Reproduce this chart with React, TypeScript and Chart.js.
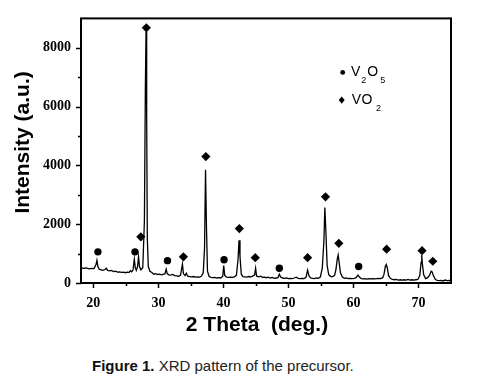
import React, { useEffect, useRef } from 'react';
import { Chart, registerables } from 'chart.js';

Chart.register(...registerables);

// XRD trace (2θ in degrees, intensity in a.u.)
const twoTheta = [
  18.1, 18.5, 18.9, 19.3, 19.7, 20.1, 20.4, 20.55, 20.7, 20.9,
  21.2, 21.5, 21.8, 22.0, 22.2, 22.5, 22.8, 23.1, 23.4, 23.7,
  24.0, 24.3, 24.6, 24.9, 25.2, 25.5, 25.7, 25.9, 26.1, 26.3,
  26.45, 26.6, 26.8, 26.95, 27.1, 27.3, 27.6, 27.85, 28.0, 28.1,
  28.2, 28.3, 28.45, 28.7, 29.0, 29.3, 29.6, 29.9, 30.2, 30.5,
  30.8, 31.0, 31.2, 31.35, 31.6, 31.9, 32.2, 32.5, 32.8, 33.1,
  33.4, 33.7, 33.85, 34.1, 34.3, 34.5, 34.8, 35.1, 35.4, 35.7,
  36.0, 36.3, 36.6, 36.9, 37.1, 37.25, 37.4, 37.55, 37.8, 38.1,
  38.4, 38.7, 39.0, 39.3, 39.6, 39.9, 40.05, 40.2, 40.5, 40.8,
  41.1, 41.4, 41.7, 42.0, 42.25, 42.4, 42.55, 42.75, 43.0, 43.3,
  43.6, 43.9, 44.2, 44.5, 44.8, 44.95, 45.1, 45.4, 45.7, 46.0,
  46.3, 46.6, 46.9, 47.2, 47.5, 47.8, 48.1, 48.4, 48.6, 48.8,
  49.1, 49.4, 49.7, 50.0, 50.3, 50.6, 50.9, 51.2, 51.5, 51.8,
  52.1, 52.4, 52.7, 52.95, 53.15, 53.4, 53.7, 54.0, 54.3, 54.6,
  54.9, 55.2, 55.45, 55.6, 55.75, 55.95, 56.2, 56.5, 56.8, 57.1,
  57.3, 57.5, 57.65, 57.8, 58.0, 58.3, 58.6, 58.9, 59.2, 59.5,
  59.8, 60.1, 60.4, 60.7, 60.9, 61.2, 61.5, 61.8, 62.1, 62.4,
  62.7, 63.0, 63.3, 63.6, 63.9, 64.2, 64.5, 64.7, 64.9, 65.05,
  65.2, 65.4, 65.7, 66.0, 66.3, 66.6, 66.9, 67.2, 67.5, 67.8,
  68.1, 68.4, 68.7, 69.0, 69.3, 69.6, 69.9, 70.2, 70.4, 70.5,
  70.6, 70.8, 71.1, 71.4, 71.7, 71.95, 72.1, 72.3, 72.6, 72.9,
  73.2, 73.5, 73.8, 74.1, 74.4, 74.7, 75.0,
];

const intensity = [
  520, 500, 510, 480, 500, 490, 620, 770, 560, 470,
  450, 430, 460, 500, 430, 410, 430, 390, 400, 370,
  380, 360, 370, 350, 370, 360, 420, 380, 440, 810,
  520, 430, 560, 890, 560, 450, 520, 2100, 6700, 8550,
  5600, 1500, 560, 400, 360, 300, 320, 290, 300, 280,
  300, 310, 470, 320, 280, 270, 290, 250, 240, 230,
  260, 640, 320, 250, 330, 230, 220, 210, 220, 200,
  210, 200, 230, 350, 1200, 3850, 1850, 400, 220, 190,
  180, 190, 170, 180, 170, 230, 590, 260, 200, 190,
  200, 190, 210, 260, 800, 1450, 900, 300, 220, 210,
  200, 220, 210, 230, 280, 500, 240, 210, 230, 190,
  200, 180, 200, 170, 190, 160, 170, 180, 300, 200,
  170, 160, 170, 150, 160, 150, 170, 200, 160, 150,
  160, 150, 190, 440, 250, 170, 160, 150, 170, 160,
  200, 500, 1400, 2570, 1800, 600, 280, 220, 220, 260,
  450, 800, 950, 700, 350, 200, 160, 170, 150, 160,
  150, 160, 180, 270, 200, 150, 140, 150, 130, 150,
  140, 150, 140, 150, 160, 150, 180, 300, 560, 630,
  520, 250, 150, 120, 110, 120, 100, 110, 100, 110,
  100, 120, 100, 110, 100, 110, 120, 250, 700, 950,
  650, 280, 150, 180, 260, 400, 380, 250, 120, 90,
  80, 90, 70, 100, 80, 90, 70,
];

// Phase markers
const v2o5Theta = [20.7, 26.4, 31.4, 40.1, 48.6, 60.8];
const v2o5Level = [1060, 1060, 760, 790, 500, 560];
const vo2Theta = [27.3, 28.15, 33.85, 37.3, 42.45, 44.9, 52.95, 55.7, 57.75, 65.1, 70.55, 72.2];
const vo2Level = [1570, 8680, 890, 4300, 1850, 860, 860, 2930, 1350, 1150, 1100, 740];

// Axes
const xTickValues = [20, 30, 40, 50, 60, 70];
const xMinorTicks = [25, 35, 45, 55, 65];
const yTickValues = [0, 2000, 4000, 6000, 8000];
const yMinorTicks = [1000, 3000, 5000, 7000];
const xTitle = '2 Theta  (deg.)';
const yTitle = 'Intensity (a.u.)';

const extrasPlugin = {
  id: 'extras',
  afterDraw(chart: any) {
    const { ctx, chartArea: a, scales } = chart;
    const xs = scales.x;
    const ys = scales.y;
    ctx.save();
    ctx.strokeStyle = '#000';
    ctx.fillStyle = '#000';
    // frame
    ctx.lineWidth = 2;
    ctx.strokeRect(a.left, a.top, a.right - a.left, a.bottom - a.top);
    // ticks
    ctx.lineWidth = 1.5;
    ctx.beginPath();
    xTickValues.forEach((v) => {
      const p = Math.round(xs.getPixelForValue(v)) + 0.5;
      ctx.moveTo(p, a.bottom); ctx.lineTo(p, a.bottom + 5);
    });
    xMinorTicks.forEach((v) => {
      const p = Math.round(xs.getPixelForValue(v)) + 0.5;
      ctx.moveTo(p, a.bottom); ctx.lineTo(p, a.bottom + 3);
    });
    yTickValues.forEach((v) => {
      const p = Math.round(ys.getPixelForValue(v)) + 0.5;
      ctx.moveTo(a.left, p); ctx.lineTo(a.left - 5, p);
    });
    yMinorTicks.forEach((v) => {
      const p = Math.round(ys.getPixelForValue(v)) + 0.5;
      ctx.moveTo(a.left, p); ctx.lineTo(a.left - 3, p);
    });
    ctx.stroke();

    // axis titles
    ctx.font = 'bold 21px "Liberation Sans", Arial, sans-serif';
    ctx.textAlign = 'center';
    ctx.textBaseline = 'middle';
    ctx.fillText(xTitle, a.left + 176, a.bottom + 42);
    ctx.save();
    ctx.translate(23, a.top + 124);
    ctx.rotate(-Math.PI / 2);
    ctx.fillText(yTitle, 0, 0);
    ctx.restore();

    // legend
    const lx = a.left + 261.7;
    const ly1 = a.top + 54;
    const ly2 = a.top + 81.7;
    ctx.beginPath();
    ctx.arc(lx, ly1, 2.4, 0, Math.PI * 2);
    ctx.fill();
    ctx.beginPath();
    ctx.moveTo(lx - 1, ly2 - 3.6);
    ctx.lineTo(lx + 2, ly2);
    ctx.lineTo(lx - 1, ly2 + 3.6);
    ctx.lineTo(lx - 4, ly2);
    ctx.closePath();
    ctx.fill();

    const drawFormula = (parts: { t: string; sub?: boolean; gap: number }[], x: number, y: number) => {
      ctx.textAlign = 'left';
      ctx.textBaseline = 'alphabetic';
      let cx = x;
      parts.forEach((p) => {
        cx += p.gap;
        ctx.font = p.sub ? '9px "Liberation Sans", Arial, sans-serif' : '14px "Liberation Sans", Arial, sans-serif';
        ctx.fillText(p.t, cx, p.sub ? y + 6.5 : y);
        cx += ctx.measureText(p.t).width;
      });
    };
    drawFormula([
      { t: 'V', gap: 0 },
      { t: '2', sub: true, gap: 1 },
      { t: 'O', gap: 1 },
      { t: '5', sub: true, gap: 2 },
    ], a.left + 270, a.top + 58);
    drawFormula([
      { t: 'V', gap: 0 },
      { t: 'O', gap: 0.5 },
      { t: '2', sub: true, gap: 3.5 },
    ], a.left + 270.7, a.top + 86);
    ctx.restore();
  },
};

export default function App() {
  const ref = useRef<HTMLCanvasElement | null>(null);

  useEffect(() => {
    const canvas = ref.current;
    if (!canvas) return;
    const tickFont = { family: '"Liberation Serif", "Times New Roman", serif', size: 14, weight: 'bold' as const };
    const chart = new Chart(canvas, {
      type: 'line',
      data: {
        datasets: [
          {
            label: 'XRD',
            data: twoTheta.map((x, i) => ({ x, y: intensity[i] })),
            borderColor: '#000',
            borderWidth: 1.3,
            pointRadius: 0,
            tension: 0,
            fill: false,
            order: 3,
          },
          {
            label: 'V2O5',
            data: v2o5Theta.map((x, i) => ({ x, y: v2o5Level[i] })),
            showLine: false,
            pointStyle: 'circle',
            pointRadius: 3.7,
            backgroundColor: '#000',
            borderColor: '#000',
            borderWidth: 0,
            order: 1,
          },
          {
            label: 'VO2',
            data: vo2Theta.map((x, i) => ({ x, y: vo2Level[i] })),
            showLine: false,
            pointStyle: 'rectRot',
            pointRadius: 4.6,
            backgroundColor: '#000',
            borderColor: '#000',
            borderWidth: 0,
            order: 1,
          },
        ],
      },
      options: {
        animation: false,
        responsive: false,
        maintainAspectRatio: false,
        events: [],
        layout: { padding: { left: 0, top: 16, right: 29, bottom: 0 } },
        plugins: {
          legend: { display: false },
          tooltip: { enabled: false },
        },
        scales: {
          x: {
            type: 'linear',
            min: 18.1,
            max: 75,
            grid: { display: false, drawTicks: false },
            border: { display: false },
            ticks: { color: '#000', font: tickFont, padding: 12, autoSkip: false, maxRotation: 0, callback: (v: any) => String(v) },
            afterBuildTicks: (s: any) => { s.ticks = xTickValues.map((v) => ({ value: v })); },
            afterFit: (s: any) => { s.height = 62; },
          },
          y: {
            type: 'linear',
            min: 0,
            max: 9000,
            grid: { display: false, drawTicks: false },
            border: { display: false },
            ticks: { color: '#000', font: tickFont, padding: 10, autoSkip: false, callback: (v: any) => String(v) },
            afterBuildTicks: (s: any) => { s.ticks = yTickValues.map((v) => ({ value: v })); },
            afterFit: (s: any) => { s.width = 81; },
          },
        },
      },
      plugins: [extrasPlugin],
    });
    return () => chart.destroy();
  }, []);

  return (
    <div style={{ position: 'absolute', left: 0, top: 0, width: 480, height: 378, background: '#fff' }}>
      <canvas ref={ref} width={480} height={345} style={{ position: 'absolute', left: 0, top: 0, width: 480, height: 345 }} />
      <div
        style={{
          position: 'absolute',
          left: 92,
          top: 357,
          fontFamily: '"Liberation Sans", Arial, sans-serif',
          fontSize: 15,
          lineHeight: '17px',
          color: '#222',
          whiteSpace: 'nowrap',
        }}
      >
        <b style={{ color: '#111' }}>Figure 1.</b> XRD pattern of the precursor.
      </div>
    </div>
  );
}
